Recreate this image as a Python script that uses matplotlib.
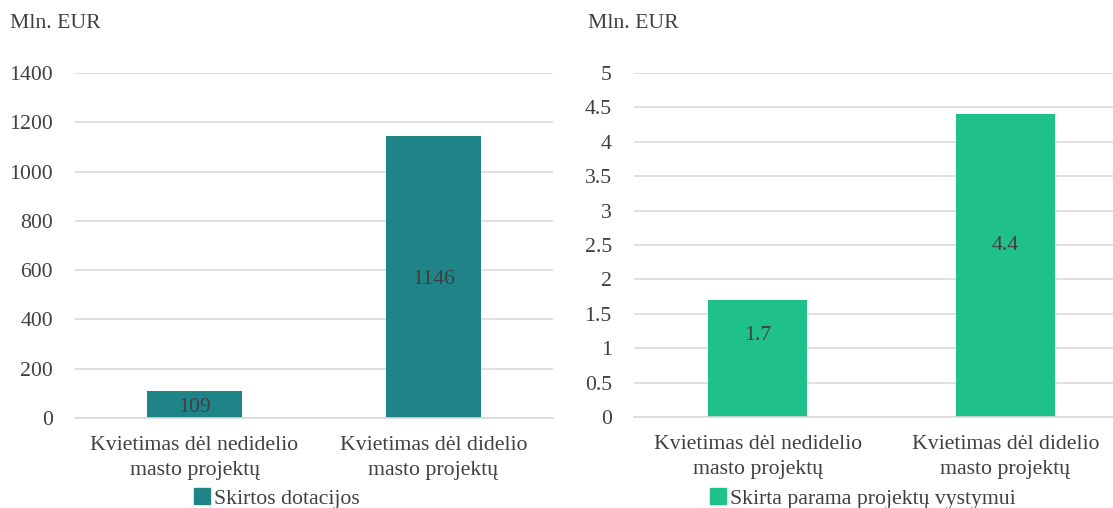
import matplotlib.pyplot as plt
import matplotlib.patches as mpatches

plt.rcParams["font.family"] = ["Liberation Serif", "DejaVu Serif"]

categories = ["Kvietimas dėl nedidelio\nmasto projektų", "Kvietimas dėl didelio\nmasto projektų"]
grants = [109, 1146]
grant_labels = ["109", "1146"]
support = [1.7, 4.4]
support_labels = ["1.7", "4.4"]

text_col = "#404040"
grid_col = "#D9D9D9"
teal = "#1F8488"
green = "#20C08A"
fs = 15.7

fig = plt.figure(figsize=(11.13, 5.08), dpi=100)
ax1 = fig.add_axes([75 / 1113, 90 / 508, 478 / 1113, 345 / 508])
ax2 = fig.add_axes([634 / 1113, 91 / 508, 495 / 1113, 344 / 508])


def style(ax, ymax, step):
    ax.set_xlim(-0.5, 1.5)
    ax.set_ylim(0, ymax)
    ticks = [i * step for i in range(int(round(ymax / step)) + 1)]
    ax.set_yticks(ticks)
    ax.set_yticklabels([f"{t:g}" for t in ticks])
    ax.set_xticks(range(len(categories)))
    ax.set_xticklabels(categories, linespacing=1.4)
    for s in ["top", "right", "left"]:
        ax.spines[s].set_visible(False)
    ax.spines["bottom"].set_color(grid_col)
    ax.spines["bottom"].set_linewidth(1.2)
    ax.grid(axis="y", color=grid_col, linewidth=1.2)
    ax.set_axisbelow(True)
    ax.tick_params(axis="both", length=0, labelsize=fs, colors=text_col)
    ax.tick_params(axis="y", pad=16)
    ax.tick_params(axis="x", pad=13)


# left panel
ax1.bar(range(len(grants)), grants, width=0.4, color=teal)
style(ax1, 1400, 200)
for i, v in enumerate(grants):
    ax1.text(i, v / 2, grant_labels[i], ha="center", va="center_baseline", fontsize=fs, color=text_col)
fig.text(10 / 1113, 1 - 24 / 508, "Mln. EUR", fontsize=fs, color=text_col, va="center")
fig.legend(handles=[mpatches.Patch(color=teal, label="Skirtos dotacijos")],
           loc="center", bbox_to_anchor=(277 / 1113, 9.5 / 508), frameon=False,
           fontsize=fs, handlelength=0.7, handleheight=0.7, handletextpad=0.2,
           labelcolor=text_col)

# right panel
ax2.bar(range(len(support)), support, width=0.4, color=green)
style(ax2, 5, 0.5)
label_frac = [0.72, 0.575]
for i, v in enumerate(support):
    ax2.text(i, v * label_frac[i], support_labels[i], ha="center", va="center_baseline", fontsize=fs, color=text_col)
fig.text(588 / 1113, 1 - 24 / 508, "Mln. EUR", fontsize=fs, color=text_col, va="center")
fig.legend(handles=[mpatches.Patch(color=green, label="Skirta parama projektų vystymui")],
           loc="center", bbox_to_anchor=(863 / 1113, 9.5 / 508), frameon=False,
           fontsize=fs, handlelength=0.7, handleheight=0.7, handletextpad=0.2,
           labelcolor=text_col)

fig.savefig("out.png", dpi=100)
